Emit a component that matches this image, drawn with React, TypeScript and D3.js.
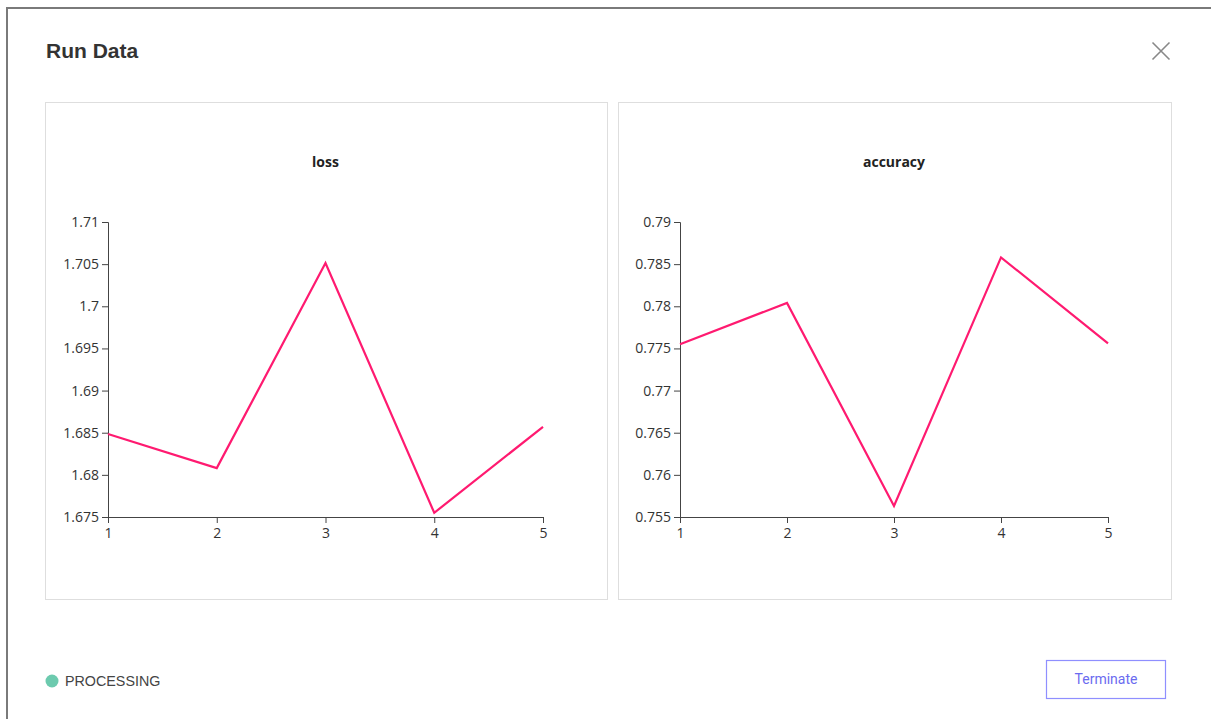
import React, { useEffect, useRef } from "react";
import * as d3 from "d3";

const epochs = [1, 2, 3, 4, 5];
const lossValues = [1.68485, 1.6808, 1.70514, 1.6755, 1.6857];
const accuracyValues = [0.7755, 0.7804, 0.7563, 0.7858, 0.7756];
const lossTicks = [1.675, 1.68, 1.685, 1.69, 1.695, 1.7, 1.705, 1.71];
const accuracyTicks = [0.755, 0.76, 0.765, 0.77, 0.775, 0.78, 0.785, 0.79];

const charts = [
  { title: "loss", values: lossValues, ticks: lossTicks, panel: [45, 102, 562, 497], axisX: [108, 543] },
  { title: "accuracy", values: accuracyValues, ticks: accuracyTicks, panel: [618, 102, 553, 497], axisX: [680, 1108] },
];

export default function App() {
  const ref = useRef<SVGSVGElement | null>(null);
  useEffect(() => {
    const svg = d3.select(ref.current);
    svg.selectAll("*").remove();
    // modal border
    svg.append("rect").attr("x", 7).attr("y", 8).attr("width", 1210).attr("height", 720)
      .attr("fill", "#fff").attr("stroke", "#7a7a7a").attr("stroke-width", 2);
    svg.append("text").attr("x", 46).attr("y", 58).text("Run Data")
      .attr("font-family", "'Liberation Sans', Arial, sans-serif").attr("font-weight", "bold")
      .attr("font-size", 21).attr("fill", "#333");
    // close X
    const cx = 1161, cy = 51, r = 8.5;
    svg.append("path").attr("d", `M${cx - r},${cy - r}L${cx + r},${cy + r}M${cx + r},${cy - r}L${cx - r},${cy + r}`)
      .attr("stroke", "#888").attr("stroke-width", 1.6).attr("fill", "none");

    charts.forEach((c) => {
      const [px, py, pw, ph] = c.panel;
      svg.append("rect").attr("x", px + 0.5).attr("y", py + 0.5).attr("width", pw).attr("height", ph)
        .attr("fill", "#fff").attr("stroke", "#dedede").attr("stroke-width", 1);
      const x = d3.scaleLinear().domain([1, 5]).range(c.axisX);
      const y = d3.scaleLinear().domain([c.ticks[0], c.ticks[c.ticks.length - 1]]).range([517, 222]);
      svg.append("text").attr("x", (c.axisX[0] + c.axisX[1]) / 2).attr("y", 167)
        .attr("text-anchor", "middle").attr("font-family", "'Open Sans', 'Noto Sans', sans-serif")
        .attr("font-weight", "bold").attr("font-size", 14).attr("fill", "#222").text(c.title);
      const gy = svg.append("g").attr("transform", `translate(${c.axisX[0]},0)`)
        .call(d3.axisLeft(y).tickValues(c.ticks).tickFormat((d: any) => String(+(+d).toFixed(3))));
      const gx = svg.append("g").attr("transform", `translate(0,517)`)
        .call(d3.axisBottom(x).tickValues(epochs).tickFormat((d: any) => String(d)));
      [gx, gy].forEach((g) => {
        g.selectAll("path,line").attr("stroke", "#444");
        g.selectAll("text").attr("font-family", "'Open Sans', 'Noto Sans', sans-serif")
          .attr("font-size", 14).attr("fill", "#333");
      });
      gx.selectAll("text").attr("y", 11);
      const line = d3.line<number>().x((_, i) => x(epochs[i])).y((d) => y(d));
      svg.append("path").attr("d", line(c.values)).attr("fill", "none")
        .attr("stroke", "#ff1a70").attr("stroke-width", 2.2);
    });

    svg.append("circle").attr("cx", 52).attr("cy", 681).attr("r", 6.5).attr("fill", "#6ccaae");
    svg.append("text").attr("x", 65).attr("y", 686).text("PROCESSING")
      .attr("font-family", "'Liberation Sans', Arial, sans-serif").attr("font-size", 14.3).attr("fill", "#444");
    svg.append("rect").attr("x", 1046.5).attr("y", 660.5).attr("width", 119).attr("height", 38)
      .attr("fill", "#fff").attr("stroke", "#8f8fff").attr("stroke-width", 1.2);
    svg.append("text").attr("x", 1106).attr("y", 684).attr("text-anchor", "middle").text("Terminate")
      .attr("font-family", "Roboto, sans-serif").attr("font-size", 14).attr("fill", "#6b6bf0");
  }, []);
  return (
    <svg ref={ref} width={1211} height={719} style={{ position: "absolute", left: 0, top: 0 }} />
  );
}
